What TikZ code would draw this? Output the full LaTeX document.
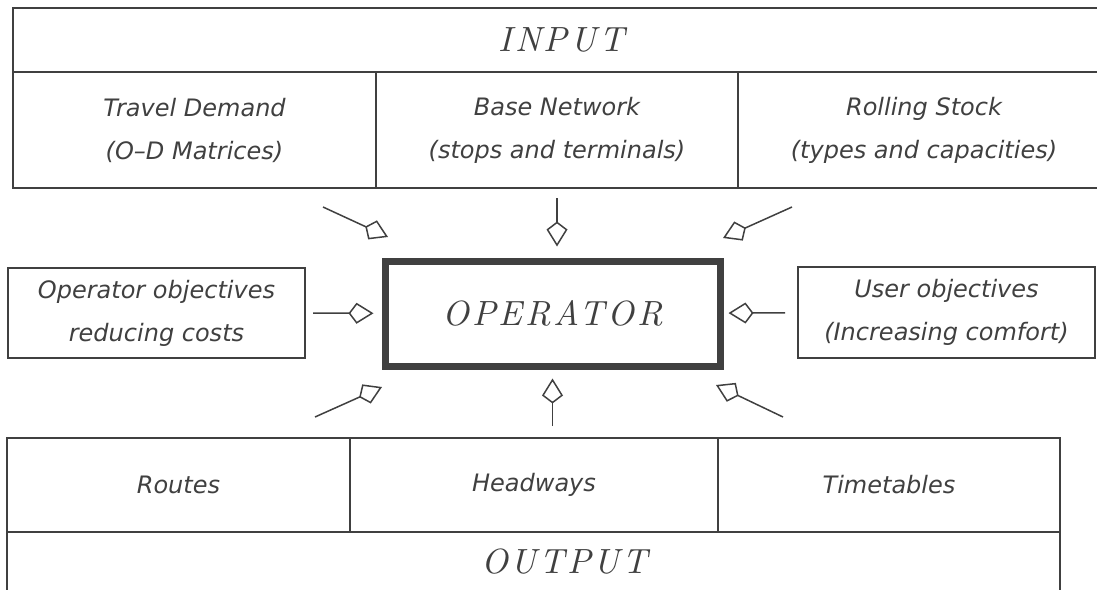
\documentclass[tikz,border=0pt]{standalone}
\usepackage{fontspec}
\usetikzlibrary{arrows.meta,positioning}
\newfontfamily\plotfont{DejaVu Sans}
\newfontfamily\titlefont[LetterSpace=8]{lmroman10-italic.otf}
\colorlet{ink}{black!75}

\begin{document}
\begin{tikzpicture}[x=1pt,y=-1pt,
  cell/.style={draw=ink, line width=1.3pt, rectangle, inner sep=0pt, outer sep=0pt, anchor=north west, text=ink, align=center, font=\plotfont\itshape\fontsize{24}{43}\selectfont},
  band/.style={cell, font=\titlefont\fontsize{35}{40}\selectfont},
  feed/.style={draw=ink, line width=1.5pt, -{Kite[open, length=25pt, width=21pt, inset=8pt]}}]
\clip (0,0) rectangle (1097,589);
% input side
\node[band, minimum width=1097pt, minimum height=64pt] (input) at (13,8) {INPUT};
\node[cell, minimum width=363pt, minimum height=116pt] (demand) at (13,72) {Travel Demand\\(O–D Matrices)};
\node[cell, minimum width=362pt, minimum height=116pt] (base) at (demand.north east) {Base Network\\(stops and terminals)};
\node[cell, minimum width=372pt, minimum height=116pt] (stock) at (base.north east) {Rolling Stock\\(types and capacities)};
% operator and objectives
\node[draw=ink, line width=7pt, minimum width=335pt, minimum height=105pt, text=ink, font=\titlefont\fontsize{35}{40}\selectfont] (operator) at (552.5,313.5) {OPERATOR};
\node[cell, anchor=center, minimum width=297pt, minimum height=90pt] (opobj) at (156.5,313) {Operator objectives\\reducing costs};
\node[cell, anchor=center, minimum width=297pt, minimum height=91pt] (userobj) at (946.5,312.5) {User objectives\\(Increasing comfort)};
% output side
\node[cell, minimum width=343pt, minimum height=94pt] (routes) at (7,438) {Routes};
\node[cell, minimum width=368pt, minimum height=94pt] (headways) at (routes.north east) {Headways};
\node[cell, minimum width=342pt, minimum height=94pt] (timetables) at (headways.north east) {Timetables};
\node[band, minimum width=1053pt, minimum height=60pt, label={[text=ink, font=\titlefont\fontsize{35}{40}\selectfont, xshift=31pt]center:OUTPUT}] (output) at (7,532) {};
% arrow ends
\coordinate (tl-tail) at (323,207);
\coordinate (tl-tip) at (388,237);
\coordinate (tr-tail) at (792,207);
\coordinate (tr-tip) at (723,238);
\coordinate (bl-tail) at (315,417);
\coordinate (bl-tip) at (382,387);
\coordinate (br-tail) at (783,417);
\coordinate (br-tip) at (716,385);
% arrows
\draw[feed] (tl-tail) -- (tl-tip);
\draw[feed] (tr-tail) -- (tr-tip);
\draw[feed, shorten <=10pt, shorten >=11pt] (base) -- (base |- operator.north);
\draw[feed, shorten <=8pt, shorten >=8pt] (opobj) -- (operator);
\draw[feed, shorten <=13pt, shorten >=5pt] (userobj) -- (operator);
\draw[feed] (bl-tail) -- (bl-tip);
\draw[feed] (br-tail) -- (br-tip);
\draw[feed, shorten <=12pt, shorten >=9pt] (operator |- headways.north) -- (operator.south);
\end{tikzpicture}
\end{document}
